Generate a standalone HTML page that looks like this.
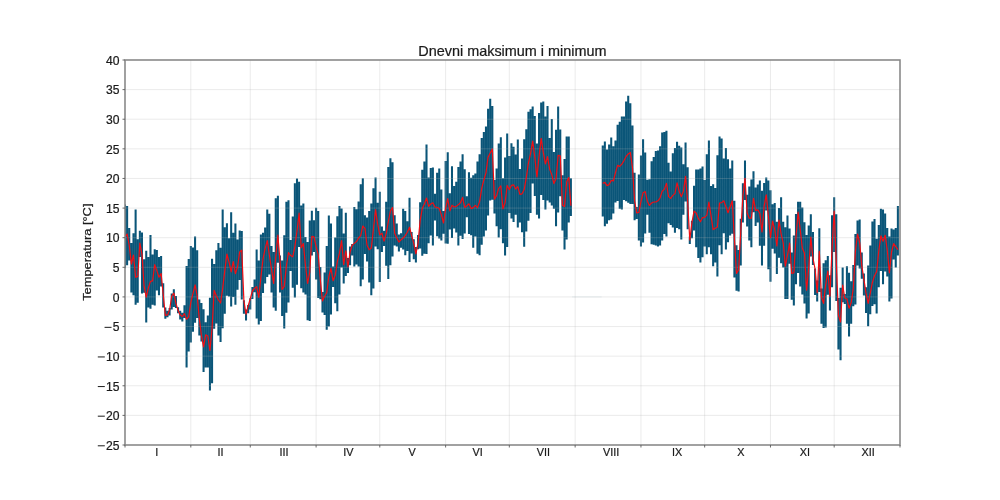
<!DOCTYPE html><html><head><meta charset="utf-8"><title>Dnevni maksimum i minimum</title>
<style>html,body{margin:0;padding:0;background:#fff;}svg{display:block;}text{font-family:"Liberation Sans",sans-serif;fill:#1a1a1a;stroke:#1a1a1a;stroke-width:0.22px;}</style></head><body>
<svg width="1000" height="500" viewBox="0 0 1000 500">
<rect width="1000" height="500" fill="#fff"/>
<clipPath id="c"><rect x="125.0" y="60.0" width="775.0" height="385.0"/></clipPath>
<g clip-path="url(#c)">
<path d="M123.97 204.60h2.06V268.20h-2.06zM126.09 206.00h2.06V265.20h-2.06zM128.22 228.00h2.06V260.40h-2.06zM130.34 243.00h2.06V292.40h-2.06zM132.46 233.20h2.06V295.20h-2.06zM134.59 209.40h2.06V304.80h-2.06zM136.71 239.20h2.06V302.80h-2.06zM138.83 230.80h2.06V257.00h-2.06zM140.96 232.40h2.06V293.60h-2.06zM143.08 259.20h2.06V292.80h-2.06zM145.20 250.80h2.06V322.40h-2.06zM147.33 257.00h2.06V307.60h-2.06zM149.45 235.00h2.06V308.80h-2.06zM151.57 254.40h2.06V304.80h-2.06zM153.70 249.20h2.06V305.60h-2.06zM155.82 250.00h2.06V290.40h-2.06zM157.94 257.00h2.06V295.20h-2.06zM160.07 256.00h2.06V286.40h-2.06zM162.19 283.20h2.06V307.60h-2.06zM164.31 307.60h2.06V318.80h-2.06zM166.44 310.80h2.06V317.30h-2.06zM168.56 308.00h2.06V315.60h-2.06zM170.68 293.60h2.06V309.60h-2.06zM172.81 289.20h2.06V307.00h-2.06zM174.93 296.00h2.06V308.00h-2.06zM177.05 307.20h2.06V313.20h-2.06zM179.18 310.80h2.06V319.50h-2.06zM181.30 312.80h2.06V321.50h-2.06zM183.42 305.20h2.06V318.00h-2.06zM185.55 266.00h2.06V367.60h-2.06zM187.67 259.00h2.06V351.60h-2.06zM189.79 246.00h2.06V342.60h-2.06zM191.92 247.50h2.06V331.80h-2.06zM194.04 236.50h2.06V322.80h-2.06zM196.16 250.20h2.06V318.00h-2.06zM198.29 299.40h2.06V335.40h-2.06zM200.41 303.00h2.06V341.40h-2.06zM202.53 309.30h2.06V372.00h-2.06zM204.66 322.20h2.06V367.60h-2.06zM206.78 315.60h2.06V367.60h-2.06zM208.90 297.80h2.06V390.40h-2.06zM211.03 258.80h2.06V383.20h-2.06zM213.15 264.00h2.06V328.80h-2.06zM215.27 250.20h2.06V323.40h-2.06zM217.39 243.00h2.06V335.40h-2.06zM219.52 247.80h2.06V342.00h-2.06zM221.64 209.40h2.06V328.20h-2.06zM223.76 227.20h2.06V313.80h-2.06zM225.89 223.20h2.06V295.80h-2.06zM228.01 238.20h2.06V296.40h-2.06zM230.13 212.20h2.06V306.60h-2.06zM232.26 232.80h2.06V297.00h-2.06zM234.38 223.60h2.06V304.80h-2.06zM236.50 239.40h2.06V289.80h-2.06zM238.63 230.40h2.06V280.00h-2.06zM240.75 231.00h2.06V299.50h-2.06zM242.87 300.20h2.06V313.80h-2.06zM245.00 309.40h2.06V320.40h-2.06zM247.12 305.00h2.06V313.20h-2.06zM249.24 298.20h2.06V309.60h-2.06zM251.37 287.00h2.06V299.00h-2.06zM253.49 279.50h2.06V292.20h-2.06zM255.61 249.60h2.06V318.60h-2.06zM257.74 260.40h2.06V324.60h-2.06zM259.86 234.60h2.06V321.00h-2.06zM261.98 232.80h2.06V293.00h-2.06zM264.11 227.40h2.06V283.40h-2.06zM266.23 209.60h2.06V277.00h-2.06zM268.35 213.80h2.06V274.50h-2.06zM270.48 246.00h2.06V292.40h-2.06zM272.60 252.00h2.06V307.60h-2.06zM274.72 198.20h2.06V310.70h-2.06zM276.85 195.80h2.06V262.80h-2.06zM278.97 255.60h2.06V292.40h-2.06zM281.09 260.40h2.06V316.10h-2.06zM283.22 235.20h2.06V328.60h-2.06zM285.34 201.80h2.06V312.80h-2.06zM287.46 200.20h2.06V302.60h-2.06zM289.59 240.00h2.06V271.10h-2.06zM291.71 216.60h2.06V287.80h-2.06zM293.83 183.20h2.06V297.60h-2.06zM295.96 178.60h2.06V284.70h-2.06zM298.08 181.80h2.06V247.00h-2.06zM300.20 205.40h2.06V288.30h-2.06zM302.33 203.60h2.06V292.40h-2.06zM304.45 237.00h2.06V294.50h-2.06zM306.57 242.00h2.06V320.30h-2.06zM308.70 220.40h2.06V320.90h-2.06zM310.82 210.80h2.06V255.60h-2.06zM312.94 220.20h2.06V252.10h-2.06zM315.07 207.80h2.06V279.50h-2.06zM317.19 211.00h2.06V298.00h-2.06zM319.31 267.00h2.06V299.20h-2.06zM321.44 292.00h2.06V312.50h-2.06zM323.56 272.40h2.06V314.90h-2.06zM325.68 246.00h2.06V329.80h-2.06zM327.81 215.40h2.06V326.60h-2.06zM329.93 223.40h2.06V314.40h-2.06zM332.05 266.40h2.06V287.00h-2.06zM334.18 237.60h2.06V303.20h-2.06zM336.30 216.20h2.06V311.30h-2.06zM338.42 206.00h2.06V294.40h-2.06zM340.55 208.40h2.06V267.40h-2.06zM342.67 233.40h2.06V283.60h-2.06zM344.79 212.80h2.06V276.00h-2.06zM346.92 258.00h2.06V273.00h-2.06zM349.04 246.40h2.06V265.20h-2.06zM351.16 244.00h2.06V255.60h-2.06zM353.29 207.00h2.06V266.40h-2.06zM355.41 209.30h2.06V264.60h-2.06zM357.53 201.40h2.06V266.40h-2.06zM359.66 184.20h2.06V286.20h-2.06zM361.78 178.20h2.06V279.60h-2.06zM363.90 215.20h2.06V254.00h-2.06zM366.02 217.60h2.06V261.60h-2.06zM368.15 211.00h2.06V282.60h-2.06zM370.27 203.40h2.06V295.20h-2.06zM372.39 188.20h2.06V288.60h-2.06zM374.52 177.60h2.06V246.60h-2.06zM376.64 202.80h2.06V249.20h-2.06zM378.76 191.80h2.06V282.00h-2.06zM380.89 226.60h2.06V252.00h-2.06zM383.01 230.80h2.06V246.00h-2.06zM385.13 201.80h2.06V265.80h-2.06zM387.26 167.00h2.06V279.00h-2.06zM389.38 158.20h2.06V265.20h-2.06zM391.50 162.20h2.06V256.40h-2.06zM393.63 215.20h2.06V245.50h-2.06zM395.75 223.60h2.06V246.50h-2.06zM397.87 234.40h2.06V251.60h-2.06zM400.00 233.20h2.06V247.70h-2.06zM402.12 208.80h2.06V249.60h-2.06zM404.24 211.00h2.06V255.20h-2.06zM406.37 221.20h2.06V251.00h-2.06zM408.49 197.80h2.06V262.10h-2.06zM410.61 232.00h2.06V253.40h-2.06zM412.74 239.20h2.06V259.20h-2.06zM414.86 247.00h2.06V262.40h-2.06zM416.98 235.00h2.06V249.20h-2.06zM419.11 202.20h2.06V248.50h-2.06zM421.23 169.80h2.06V255.80h-2.06zM423.35 161.40h2.06V253.80h-2.06zM425.48 144.50h2.06V254.00h-2.06zM427.60 177.60h2.06V243.20h-2.06zM429.72 168.00h2.06V235.60h-2.06zM431.85 167.40h2.06V245.60h-2.06zM433.97 193.80h2.06V220.60h-2.06zM436.09 172.80h2.06V236.20h-2.06zM438.22 168.60h2.06V238.60h-2.06zM440.34 189.40h2.06V240.50h-2.06zM442.46 211.00h2.06V233.80h-2.06zM444.59 161.00h2.06V243.50h-2.06zM446.71 152.20h2.06V243.80h-2.06zM448.83 193.20h2.06V229.60h-2.06zM450.96 166.20h2.06V238.00h-2.06zM453.08 186.00h2.06V228.40h-2.06zM455.20 181.80h2.06V232.60h-2.06zM457.33 167.00h2.06V245.60h-2.06zM459.45 161.40h2.06V235.80h-2.06zM461.57 154.20h2.06V239.00h-2.06zM463.70 169.20h2.06V233.40h-2.06zM465.82 196.20h2.06V217.20h-2.06zM467.94 172.20h2.06V234.00h-2.06zM470.07 177.80h2.06V235.20h-2.06zM472.19 175.20h2.06V247.70h-2.06zM474.31 173.40h2.06V236.40h-2.06zM476.44 161.40h2.06V253.70h-2.06zM478.56 154.20h2.06V255.20h-2.06zM480.68 138.00h2.06V244.70h-2.06zM482.81 132.00h2.06V236.60h-2.06zM484.93 126.40h2.06V230.40h-2.06zM487.05 108.80h2.06V215.40h-2.06zM489.18 98.80h2.06V200.40h-2.06zM491.30 106.00h2.06V199.80h-2.06zM493.42 180.00h2.06V213.60h-2.06zM495.55 168.60h2.06V226.20h-2.06zM497.67 143.60h2.06V237.60h-2.06zM499.79 137.20h2.06V229.20h-2.06zM501.92 178.20h2.06V243.20h-2.06zM504.04 157.40h2.06V255.40h-2.06zM506.16 133.60h2.06V247.10h-2.06zM508.29 156.00h2.06V213.00h-2.06zM510.41 143.20h2.06V218.40h-2.06zM512.53 146.80h2.06V222.00h-2.06zM514.66 154.60h2.06V214.80h-2.06zM516.78 139.40h2.06V227.40h-2.06zM518.90 169.00h2.06V222.60h-2.06zM521.02 158.40h2.06V232.20h-2.06zM523.15 139.20h2.06V246.70h-2.06zM525.27 129.20h2.06V231.60h-2.06zM527.39 111.80h2.06V220.80h-2.06zM529.52 109.20h2.06V213.00h-2.06zM531.64 106.40h2.06V183.60h-2.06zM533.76 116.00h2.06V195.90h-2.06zM535.89 143.60h2.06V214.80h-2.06zM538.01 113.00h2.06V218.40h-2.06zM540.13 102.40h2.06V195.00h-2.06zM542.26 101.60h2.06V200.00h-2.06zM544.38 116.60h2.06V209.40h-2.06zM546.50 106.00h2.06V200.40h-2.06zM548.63 138.00h2.06V202.50h-2.06zM550.75 119.00h2.06V205.50h-2.06zM552.87 152.00h2.06V208.80h-2.06zM555.00 129.80h2.06V226.20h-2.06zM557.12 106.40h2.06V212.40h-2.06zM559.24 129.60h2.06V196.20h-2.06zM561.37 175.20h2.06V230.40h-2.06zM563.49 159.00h2.06V249.60h-2.06zM565.61 136.40h2.06V239.50h-2.06zM567.74 136.40h2.06V222.60h-2.06zM569.86 178.20h2.06V216.00h-2.06zM601.71 145.40h2.06V216.60h-2.06zM603.83 141.60h2.06V226.20h-2.06zM605.96 149.50h2.06V223.80h-2.06zM608.08 144.60h2.06V220.20h-2.06zM610.20 137.40h2.06V219.60h-2.06zM612.33 146.20h2.06V213.60h-2.06zM614.45 140.40h2.06V202.50h-2.06zM616.57 124.80h2.06V201.00h-2.06zM618.70 121.80h2.06V208.80h-2.06zM620.82 116.40h2.06V209.40h-2.06zM622.94 116.40h2.06V200.00h-2.06zM625.07 101.40h2.06V201.20h-2.06zM627.19 95.80h2.06V202.80h-2.06zM629.31 103.20h2.06V204.00h-2.06zM631.44 125.40h2.06V204.00h-2.06zM633.56 172.80h2.06V220.20h-2.06zM635.68 207.00h2.06V219.00h-2.06zM637.81 174.40h2.06V240.60h-2.06zM639.93 155.60h2.06V246.60h-2.06zM642.05 139.20h2.06V242.40h-2.06zM644.18 152.40h2.06V233.40h-2.06zM646.30 179.80h2.06V214.80h-2.06zM648.42 179.20h2.06V232.80h-2.06zM650.55 161.20h2.06V244.20h-2.06zM652.67 157.00h2.06V244.80h-2.06zM654.79 151.00h2.06V245.40h-2.06zM656.92 150.40h2.06V246.60h-2.06zM659.04 146.20h2.06V245.40h-2.06zM661.16 132.60h2.06V240.60h-2.06zM663.29 132.00h2.06V234.00h-2.06zM665.41 130.80h2.06V236.40h-2.06zM667.53 162.80h2.06V223.20h-2.06zM669.66 171.60h2.06V225.00h-2.06zM671.78 153.20h2.06V227.40h-2.06zM673.90 148.10h2.06V232.80h-2.06zM676.02 141.80h2.06V228.00h-2.06zM678.15 145.80h2.06V229.20h-2.06zM680.27 147.60h2.06V239.40h-2.06zM682.39 164.20h2.06V214.80h-2.06zM684.52 142.60h2.06V201.60h-2.06zM686.64 167.20h2.06V229.20h-2.06zM688.76 236.50h2.06V244.00h-2.06zM690.89 220.80h2.06V238.20h-2.06zM693.01 185.80h2.06V230.40h-2.06zM695.13 169.60h2.06V247.20h-2.06zM697.26 169.60h2.06V258.00h-2.06zM699.38 168.60h2.06V262.60h-2.06zM701.50 166.40h2.06V257.20h-2.06zM703.63 180.00h2.06V246.40h-2.06zM705.75 154.20h2.06V254.20h-2.06zM707.87 140.40h2.06V247.30h-2.06zM710.00 186.00h2.06V254.20h-2.06zM712.12 184.20h2.06V266.20h-2.06zM714.24 188.00h2.06V262.60h-2.06zM716.37 155.20h2.06V276.40h-2.06zM718.49 136.40h2.06V245.20h-2.06zM720.61 138.40h2.06V254.20h-2.06zM722.74 158.40h2.06V233.20h-2.06zM724.86 148.00h2.06V249.40h-2.06zM726.98 159.20h2.06V242.20h-2.06zM729.11 168.40h2.06V235.60h-2.06zM731.23 160.40h2.06V233.80h-2.06zM733.35 200.80h2.06V277.60h-2.06zM735.48 245.20h2.06V290.80h-2.06zM737.60 250.00h2.06V291.60h-2.06zM739.72 218.80h2.06V265.60h-2.06zM741.85 183.20h2.06V222.40h-2.06zM743.97 160.40h2.06V200.00h-2.06zM746.09 194.80h2.06V226.60h-2.06zM748.22 186.40h2.06V240.40h-2.06zM750.34 179.40h2.06V247.30h-2.06zM752.46 171.20h2.06V212.20h-2.06zM754.59 187.60h2.06V226.00h-2.06zM756.71 184.40h2.06V222.40h-2.06zM758.83 180.40h2.06V245.80h-2.06zM760.96 190.80h2.06V265.60h-2.06zM763.08 183.00h2.06V245.80h-2.06zM765.20 177.60h2.06V210.40h-2.06zM767.33 180.40h2.06V269.20h-2.06zM769.45 190.20h2.06V281.80h-2.06zM771.57 204.20h2.06V248.80h-2.06zM773.70 203.00h2.06V253.60h-2.06zM775.82 221.80h2.06V274.00h-2.06zM777.94 208.00h2.06V257.80h-2.06zM780.07 197.20h2.06V263.20h-2.06zM782.19 221.80h2.06V267.40h-2.06zM784.31 227.20h2.06V299.00h-2.06zM786.44 215.40h2.06V299.00h-2.06zM788.56 228.40h2.06V263.80h-2.06zM790.68 252.40h2.06V299.80h-2.06zM792.81 235.40h2.06V305.40h-2.06zM794.93 214.00h2.06V284.20h-2.06zM797.05 201.80h2.06V273.00h-2.06zM799.18 201.80h2.06V286.60h-2.06zM801.30 207.40h2.06V294.40h-2.06zM803.42 222.20h2.06V303.40h-2.06zM805.55 235.00h2.06V318.60h-2.06zM807.67 225.40h2.06V313.40h-2.06zM809.79 214.20h2.06V256.60h-2.06zM811.92 232.00h2.06V265.00h-2.06zM814.04 268.60h2.06V295.00h-2.06zM816.16 280.60h2.06V301.40h-2.06zM818.29 228.20h2.06V292.00h-2.06zM820.41 288.40h2.06V323.80h-2.06zM822.53 263.20h2.06V328.00h-2.06zM824.66 260.20h2.06V327.40h-2.06zM826.78 256.00h2.06V294.80h-2.06zM828.90 275.20h2.06V310.60h-2.06zM831.02 215.20h2.06V287.20h-2.06zM833.15 197.20h2.06V252.00h-2.06zM835.27 214.20h2.06V301.00h-2.06zM837.39 298.00h2.06V349.50h-2.06zM839.52 287.80h2.06V360.20h-2.06zM841.64 267.40h2.06V302.20h-2.06zM843.76 294.00h2.06V304.00h-2.06zM845.89 266.20h2.06V323.80h-2.06zM848.01 272.80h2.06V336.40h-2.06zM850.13 281.20h2.06V323.80h-2.06zM852.26 265.00h2.06V306.20h-2.06zM854.38 234.00h2.06V304.60h-2.06zM856.50 220.40h2.06V265.60h-2.06zM858.63 219.60h2.06V268.60h-2.06zM860.75 252.40h2.06V278.80h-2.06zM862.87 273.40h2.06V295.60h-2.06zM865.00 287.20h2.06V313.00h-2.06zM867.12 265.60h2.06V326.20h-2.06zM869.24 245.40h2.06V314.20h-2.06zM871.37 221.40h2.06V306.00h-2.06zM873.49 219.00h2.06V304.30h-2.06zM875.61 238.80h2.06V313.60h-2.06zM877.74 225.00h2.06V287.20h-2.06zM879.86 208.80h2.06V271.00h-2.06zM881.98 209.60h2.06V284.20h-2.06zM884.11 213.60h2.06V271.60h-2.06zM886.23 228.00h2.06V276.40h-2.06zM888.35 236.40h2.06V301.60h-2.06zM890.48 228.40h2.06V298.60h-2.06zM892.60 229.60h2.06V259.60h-2.06zM894.72 228.00h2.06V267.40h-2.06zM896.85 206.00h2.06V255.40h-2.06z" fill="#0a5578"/>
<path d="M190.82 60.0V445.0M250.27 60.0V445.0M316.10 60.0V445.0M379.79 60.0V445.0M445.62 60.0V445.0M509.32 60.0V445.0M575.14 60.0V445.0M640.96 60.0V445.0M704.66 60.0V445.0M770.48 60.0V445.0M834.18 60.0V445.0M125.0 415.38H900.0M125.0 385.77H900.0M125.0 356.15H900.0M125.0 326.54H900.0M125.0 296.92H900.0M125.0 267.31H900.0M125.0 237.69H900.0M125.0 208.08H900.0M125.0 178.46H900.0M125.0 148.85H900.0M125.0 119.23H900.0M125.0 89.62H900.0" stroke="#b0b0b0" stroke-opacity="0.29" stroke-width="0.9" fill="none"/>
<path d="M572.01 296.92H601.62" stroke="#0a5578" stroke-opacity="0.10" stroke-width="0.8" fill="none"/>
<path d="M125.00 237.00L127.12 234.00L129.25 245.40L131.37 264.00L133.49 255.00L135.62 277.20L137.74 276.60L139.86 243.00L141.99 254.40L144.11 286.20L146.23 297.20L148.36 288.00L150.48 281.40L152.60 280.80L154.73 264.60L156.85 270.60L158.97 277.20L161.10 273.60L163.22 294.50L165.34 315.30L167.47 314.90L169.59 310.00L171.71 296.00L173.84 293.20L175.96 303.40L178.08 310.60L180.21 315.10L182.33 316.50L184.45 313.70L186.58 319.20L188.70 316.80L190.82 302.40L192.95 293.60L195.07 284.80L197.19 296.00L199.32 319.00L201.44 335.40L203.56 346.80L205.68 334.80L207.81 336.00L209.93 350.40L212.05 328.20L214.18 290.40L216.30 295.80L218.42 300.00L220.55 303.00L222.67 288.60L224.79 270.60L226.92 254.00L229.04 262.20L231.16 271.80L233.29 261.60L235.41 273.60L237.53 267.00L239.66 252.00L241.78 250.20L243.90 300.60L246.03 314.20L248.15 305.80L250.27 298.60L252.40 291.00L254.52 288.50L256.64 286.60L258.77 297.40L260.89 277.20L263.01 259.20L265.14 248.40L267.26 240.60L269.38 255.00L271.51 269.40L273.63 283.50L275.75 256.20L277.88 235.20L280.00 261.00L282.12 289.50L284.25 286.40L286.37 266.00L288.49 252.60L290.62 255.60L292.74 256.80L294.86 246.60L296.99 231.00L299.11 213.20L301.23 247.80L303.36 243.60L305.48 265.80L307.60 283.30L309.73 272.30L311.85 236.40L313.97 236.80L316.10 246.60L318.22 254.40L320.34 280.00L322.47 301.00L324.59 296.20L326.71 292.60L328.84 276.50L330.96 268.40L333.08 280.70L335.21 275.30L337.33 261.60L339.45 253.20L341.58 240.60L343.70 264.60L345.82 250.80L347.95 267.00L350.07 252.00L352.19 245.30L354.32 243.40L356.44 241.60L358.56 238.00L360.68 235.60L362.81 226.00L364.93 228.40L367.05 245.30L369.18 249.80L371.30 248.00L373.42 229.00L375.55 209.60L377.67 224.20L379.79 235.00L381.92 233.20L384.04 241.10L386.16 233.80L388.29 221.80L390.41 211.00L392.53 207.50L394.66 233.20L396.78 238.00L398.90 242.00L401.03 239.80L403.15 238.00L405.27 235.60L407.40 232.00L409.52 227.20L411.64 235.60L413.77 243.40L415.89 254.00L418.01 243.40L420.14 220.60L422.26 208.60L424.38 204.00L426.51 198.00L428.63 206.40L430.75 204.00L432.88 202.80L435.00 207.00L437.12 207.40L439.25 208.50L441.37 214.60L443.49 223.00L445.62 208.60L447.74 198.60L449.86 211.00L451.99 205.20L454.11 207.00L456.23 206.40L458.36 204.60L460.48 202.80L462.60 197.40L464.73 207.40L466.85 205.80L468.97 203.80L471.10 208.60L473.22 207.60L475.34 205.40L477.47 207.60L479.59 201.60L481.71 188.40L483.84 180.00L485.96 172.80L488.08 157.20L490.21 153.00L492.33 149.00L494.45 199.20L496.58 195.60L498.70 188.40L500.82 186.00L502.95 208.80L505.07 202.80L507.19 185.40L509.32 189.60L511.44 185.40L513.56 184.80L515.68 189.00L517.81 186.60L519.93 194.40L522.05 193.80L524.18 189.60L526.30 177.60L528.42 163.20L530.55 153.60L532.67 141.20L534.79 157.20L536.92 177.00L539.04 156.60L541.16 138.40L543.29 152.40L545.41 163.80L547.53 156.60L549.66 169.20L551.78 174.60L553.90 183.60L556.03 178.80L558.15 155.40L560.27 155.80L562.40 205.20L564.52 206.40L566.64 181.80L568.77 177.60L570.89 205.80" stroke="#f20d12" stroke-width="1.2" fill="none" stroke-linejoin="round"/>
<path d="M602.74 183.40L604.86 182.40L606.99 185.60L609.11 184.60L611.23 180.40L613.36 181.00L615.48 172.60L617.60 165.40L619.73 166.40L621.85 164.20L623.97 160.60L626.10 156.40L628.22 154.00L630.34 152.40L632.47 167.80L634.59 200.50L636.71 213.00L638.84 212.40L640.96 201.50L643.08 192.80L645.21 191.60L647.33 201.20L649.45 205.40L651.58 203.00L653.70 202.00L655.82 202.00L657.95 200.80L660.07 197.80L662.19 191.20L664.32 189.40L666.44 183.40L668.56 196.60L670.68 198.40L672.81 195.40L674.93 193.60L677.05 182.80L679.18 191.20L681.30 196.60L683.42 191.20L685.55 176.40L687.67 201.80L689.79 240.00L691.92 222.60L694.04 211.20L696.16 213.00L698.29 218.40L700.41 221.80L702.53 217.60L704.66 217.40L706.78 215.20L708.90 202.00L711.03 215.80L713.15 229.60L715.27 228.20L717.40 227.00L719.52 203.00L721.64 202.60L723.77 200.80L725.89 206.80L728.01 212.80L730.14 206.80L732.26 200.80L734.38 238.00L736.51 273.40L738.63 269.80L740.75 232.00L742.88 196.00L745.00 178.40L747.12 212.80L749.25 218.20L751.37 218.20L753.49 198.40L755.62 210.40L757.74 209.80L759.86 213.40L761.99 232.00L764.11 206.20L766.23 194.80L768.36 215.80L770.48 237.70L772.60 221.20L774.73 229.60L776.85 246.00L778.97 220.00L781.10 233.80L783.22 242.80L785.34 266.20L787.47 255.40L789.59 243.00L791.71 273.40L793.84 272.80L795.96 237.70L798.08 212.20L800.21 229.60L802.33 248.20L804.45 253.00L806.58 290.20L808.70 268.50L810.82 237.00L812.95 258.00L815.07 269.00L817.19 292.60L819.32 251.40L821.44 297.40L823.56 303.40L825.68 284.80L827.81 271.00L829.93 296.20L832.05 248.00L834.18 211.20L836.30 262.00L838.42 315.00L840.55 322.00L842.67 285.00L844.79 298.00L846.92 299.00L849.04 308.20L851.16 302.80L853.29 288.40L855.41 251.00L857.53 234.00L859.66 242.40L861.78 265.60L863.90 279.40L866.03 293.20L868.15 303.40L870.27 293.20L872.40 282.40L874.52 275.80L876.64 271.60L878.77 251.00L880.89 235.80L883.01 241.20L885.14 235.20L887.26 250.00L889.38 272.80L891.51 252.00L893.63 243.60L895.75 246.60L897.88 249.60" stroke="#f20d12" stroke-width="1.2" fill="none" stroke-linejoin="round"/>
</g>
<rect x="125.0" y="60.0" width="775.0" height="385.0" fill="none" stroke="#868686" stroke-width="1.55"/>
<path d="M125.00 445.0v2.5M190.82 445.0v2.5M250.27 445.0v2.5M316.10 445.0v2.5M379.79 445.0v2.5M445.62 445.0v2.5M509.32 445.0v2.5M575.14 445.0v2.5M640.96 445.0v2.5M704.66 445.0v2.5M770.48 445.0v2.5M834.18 445.0v2.5M900.00 445.0v2.5M125.0 445.00h-2.5M125.0 415.38h-2.5M125.0 385.77h-2.5M125.0 356.15h-2.5M125.0 326.54h-2.5M125.0 296.92h-2.5M125.0 267.31h-2.5M125.0 237.69h-2.5M125.0 208.08h-2.5M125.0 178.46h-2.5M125.0 148.85h-2.5M125.0 119.23h-2.5M125.0 89.62h-2.5M125.0 60.00h-2.5" stroke="#5a5a5a" stroke-width="0.9" fill="none"/>
<g style="opacity:0.999">
<text transform="translate(119.60 449.80) scale(1.02 1)" font-size="11.9" text-anchor="end">25</text>
<text transform="translate(119.60 420.18) scale(1.02 1)" font-size="11.9" text-anchor="end">20</text>
<text transform="translate(119.60 390.57) scale(1.02 1)" font-size="11.9" text-anchor="end">15</text>
<text transform="translate(119.60 360.95) scale(1.02 1)" font-size="11.9" text-anchor="end">10</text>
<text transform="translate(119.60 331.34) scale(1.02 1)" font-size="11.9" text-anchor="end">5</text>
<text transform="translate(119.60 301.72) scale(1.02 1)" font-size="11.9" text-anchor="end">0</text>
<text transform="translate(119.60 272.11) scale(1.02 1)" font-size="11.9" text-anchor="end">5</text>
<text transform="translate(119.60 242.49) scale(1.02 1)" font-size="11.9" text-anchor="end">10</text>
<text transform="translate(119.60 212.88) scale(1.02 1)" font-size="11.9" text-anchor="end">15</text>
<text transform="translate(119.60 183.26) scale(1.02 1)" font-size="11.9" text-anchor="end">20</text>
<text transform="translate(119.60 153.65) scale(1.02 1)" font-size="11.9" text-anchor="end">25</text>
<text transform="translate(119.60 124.03) scale(1.02 1)" font-size="11.9" text-anchor="end">30</text>
<text transform="translate(119.60 94.42) scale(1.02 1)" font-size="11.9" text-anchor="end">35</text>
<text transform="translate(119.60 64.80) scale(1.02 1)" font-size="11.9" text-anchor="end">40</text>
<path d="M97.80 445.80H104.80M97.80 416.18H104.80M97.80 386.57H104.80M97.80 356.95H104.80M104.55 327.34H111.55" stroke="#1a1a1a" stroke-width="1.0" fill="none"/>
<text transform="translate(156.80 455.90) scale(0.96 1)" font-size="11.3" text-anchor="middle">I</text>
<text transform="translate(220.50 455.90) scale(0.96 1)" font-size="11.3" text-anchor="middle">II</text>
<text transform="translate(284.00 455.90) scale(0.96 1)" font-size="11.3" text-anchor="middle">III</text>
<text transform="translate(348.30 455.90) scale(0.96 1)" font-size="11.3" text-anchor="middle">IV</text>
<text transform="translate(412.00 455.90) scale(0.96 1)" font-size="11.3" text-anchor="middle">V</text>
<text transform="translate(477.60 455.90) scale(0.96 1)" font-size="11.3" text-anchor="middle">VI</text>
<text transform="translate(543.30 455.90) scale(0.96 1)" font-size="11.3" text-anchor="middle">VII</text>
<text transform="translate(611.10 455.90) scale(0.96 1)" font-size="11.3" text-anchor="middle">VIII</text>
<text transform="translate(677.20 455.90) scale(0.96 1)" font-size="11.3" text-anchor="middle">IX</text>
<text transform="translate(740.90 455.90) scale(0.96 1)" font-size="11.3" text-anchor="middle">X</text>
<text transform="translate(804.80 455.90) scale(0.96 1)" font-size="11.3" text-anchor="middle">XI</text>
<text transform="translate(868.10 455.90) scale(0.96 1)" font-size="11.3" text-anchor="middle">XII</text>
<text transform="translate(512.40 55.90) scale(0.995 1)" font-size="14.5" text-anchor="middle">Dnevni maksimum i minimum</text>
<text transform="translate(91.20 252.20) rotate(-90) scale(1.15 1)" font-size="11.2" text-anchor="middle">Temperatura [°C]</text>
</g>
</svg></body></html>
